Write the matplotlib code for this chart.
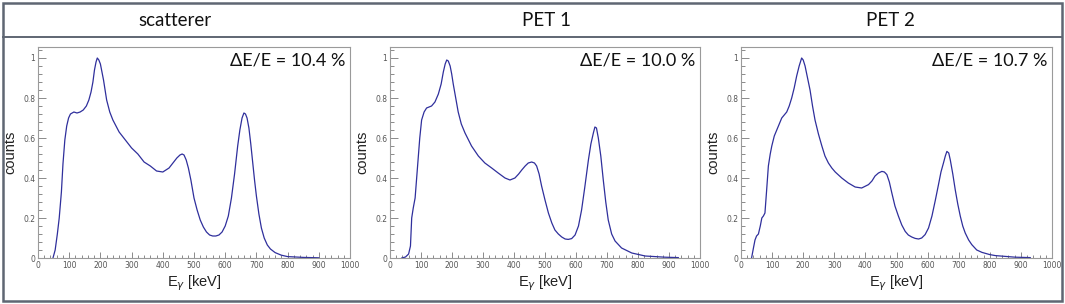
import matplotlib.pyplot as plt
from matplotlib.patches import Rectangle
from matplotlib.lines import Line2D
from matplotlib.ticker import MultipleLocator, FuncFormatter

# panel titles and resolution labels
titles = ["scatterer", "PET 1", "PET 2"]
resolutions = ["10.4", "10.0", "10.7"]

# energy spectra (keV, normalised counts)
e_scat = [48, 55, 62, 68, 75, 80, 86, 92, 98, 104, 115, 125, 135, 145, 155, 163, 170, 176,
          181, 186, 190, 195, 200, 205, 210, 215, 220, 230, 240, 260, 280, 300, 320, 340, 360,
          380, 400, 420, 435, 445, 455, 462, 468, 475, 482, 490, 500, 510, 520, 530, 540, 550,
          560, 570, 580, 590, 600, 610, 620, 630, 640, 647, 654, 660, 665, 670, 676, 682, 688,
          694, 700, 708, 716, 725, 735, 745, 760, 780, 800, 850, 900]
c_scat = [0.0, 0.04, 0.12, 0.2, 0.33, 0.47, 0.59, 0.66, 0.7, 0.72, 0.73, 0.725, 0.73, 0.74,
          0.76, 0.79, 0.83, 0.88, 0.94, 0.98, 1.0, 0.99, 0.97, 0.93, 0.89, 0.84, 0.79, 0.73,
          0.69, 0.63, 0.59, 0.55, 0.52, 0.48, 0.46, 0.435, 0.43, 0.45, 0.48, 0.5, 0.515, 0.52,
          0.515, 0.49, 0.45, 0.39, 0.3, 0.24, 0.19, 0.155, 0.13, 0.115, 0.11, 0.11, 0.115,
          0.13, 0.16, 0.21, 0.3, 0.42, 0.56, 0.64, 0.7, 0.725, 0.72, 0.7, 0.65, 0.57, 0.48,
          0.39, 0.31, 0.22, 0.15, 0.1, 0.065, 0.045, 0.027, 0.014, 0.007, 0.003, 0.001]

e_pet1 = [38, 50, 60, 66, 70, 75, 81, 86, 91, 96, 102, 110, 118, 126, 134, 145, 156, 165,
          172, 178, 183, 188, 194, 199, 204, 212, 220, 230, 242, 263, 285, 306, 328, 349, 371,
          387, 403, 415, 425, 436, 446, 457, 466, 473, 481, 489, 500, 511, 522, 532, 543, 554,
          565, 575, 586, 597, 608, 618, 628, 640, 648, 656, 661, 666, 672, 680, 688, 696, 704,
          715, 726, 747, 780, 823, 887, 930]
c_pet1 = [0.0, 0.005, 0.02, 0.06, 0.2, 0.25, 0.3, 0.4, 0.5, 0.6, 0.69, 0.73, 0.75, 0.755,
          0.76, 0.78, 0.82, 0.87, 0.93, 0.97, 0.99, 0.985, 0.96, 0.92, 0.87, 0.8, 0.73, 0.67,
          0.625, 0.56, 0.51, 0.475, 0.45, 0.425, 0.4, 0.39, 0.4, 0.42, 0.44, 0.46, 0.475, 0.48,
          0.475, 0.46, 0.42, 0.36, 0.29, 0.225, 0.175, 0.14, 0.12, 0.105, 0.095, 0.093, 0.097,
          0.115, 0.16, 0.24, 0.35, 0.49, 0.57, 0.625, 0.655, 0.65, 0.6, 0.51, 0.39, 0.28, 0.19,
          0.12, 0.085, 0.05, 0.025, 0.01, 0.004, 0.002]

e_pet2 = [34, 40, 45, 50, 56, 62, 67, 72, 77, 82, 88, 94, 99, 107, 115, 123, 131, 139, 147,
          155, 163, 171, 179, 187, 195, 200, 206, 214, 222, 230, 238, 249, 260, 270, 281, 292,
          303, 324, 345, 367, 388, 410, 421, 431, 442, 453, 461, 469, 477, 485, 495, 506, 517,
          528, 538, 549, 560, 571, 581, 592, 603, 614, 625, 635, 643, 651, 657, 662, 668, 673,
          681, 689, 697, 705, 713, 721, 732, 742, 758, 775, 800, 818, 882, 930]
c_pet2 = [0.0, 0.05, 0.09, 0.11, 0.12, 0.16, 0.2, 0.21, 0.225, 0.33, 0.46, 0.52, 0.56, 0.61,
          0.64, 0.67, 0.7, 0.715, 0.73, 0.76, 0.8, 0.85, 0.91, 0.96, 1.0, 0.99, 0.96, 0.9, 0.84,
          0.76, 0.69, 0.62, 0.56, 0.51, 0.475, 0.45, 0.43, 0.4, 0.375, 0.355, 0.35, 0.367,
          0.385, 0.41, 0.425, 0.433, 0.43, 0.417, 0.38, 0.325, 0.26, 0.21, 0.165, 0.133, 0.115,
          0.105, 0.098, 0.095, 0.1, 0.117, 0.15, 0.21, 0.29, 0.367, 0.43, 0.475, 0.51, 0.533,
          0.525, 0.49, 0.42, 0.34, 0.27, 0.21, 0.16, 0.125, 0.09, 0.067, 0.04, 0.028, 0.017,
          0.012, 0.004, 0.002]

spectra = [(e_scat, c_scat), (e_pet1, c_pet1), (e_pet2, c_pet2)]

W, H = 1065, 304
fig = plt.figure(figsize=(W / 100, H / 100), dpi=100)

# axes boxes in pixels: left, right, top, bottom
boxes = [(38, 350, 47, 258), (390, 700, 47, 258), (741, 1052, 47, 258)]
title_x = [175, 547, 890]

border = "#5f6673"
fig.add_artist(Rectangle((3 / W, 3 / H), 1059 / W, 298 / H, transform=fig.transFigure,
                         fill=False, edgecolor=border, lw=1.8))
fig.add_artist(Line2D([3 / W, 1062 / W], [1 - 37 / H, 1 - 37 / H], transform=fig.transFigure,
                      color=border, lw=1.4))

for i, (l, r, t, b) in enumerate(boxes):
    ax = fig.add_axes([l / W, 1 - b / H, (r - l) / W, (b - t) / H])
    e, c = spectra[i]
    ax.plot(e, c, color="#2f2f9c", lw=0.9)
    ax.set_xlim(0, 1000)
    ax.set_ylim(0, 1.055)
    ax.xaxis.set_major_locator(MultipleLocator(100))
    ax.xaxis.set_minor_locator(MultipleLocator(20))
    ax.yaxis.set_major_locator(MultipleLocator(0.2))
    ax.yaxis.set_minor_locator(MultipleLocator(0.04))
    ax.yaxis.set_major_formatter(FuncFormatter(lambda v, p: "%g" % round(v, 2)))
    ax.tick_params(which="both", direction="in", colors="#777777", labelcolor="#555555",
                   labelsize=5.5, pad=2, width=0.6)
    ax.tick_params(axis="y", which="major", length=5.5)
    ax.tick_params(axis="y", which="minor", length=3)
    ax.tick_params(axis="x", which="major", length=4)
    ax.tick_params(axis="x", which="minor", length=2.2)
    for s in ax.spines.values():
        s.set_color("#9a9a9a")
        s.set_linewidth(0.8)
    ax.set_ylabel("counts", fontsize=10.5, family="Liberation Sans", color="#222222")
    ax.yaxis.set_label_coords(-0.065, 0.5)
    ax.set_xlabel(r"E$_{\gamma}$ [keV]", fontsize=10.5, family="Liberation Sans", color="#222222")
    ax.xaxis.set_label_coords(0.5, -0.072)
    ax.text(0.985, 0.975, "ΔE/E = %s %%" % resolutions[i], transform=ax.transAxes,
            ha="right", va="top", fontsize=13, family="Lato", color="#111111")
    fig.text(title_x[i] / W, 1 - 21 / H, titles[i], ha="center", va="center",
             fontsize=13.5, family="Lato", color="#111111")

fig.savefig("out.png", dpi=100, facecolor="white")
